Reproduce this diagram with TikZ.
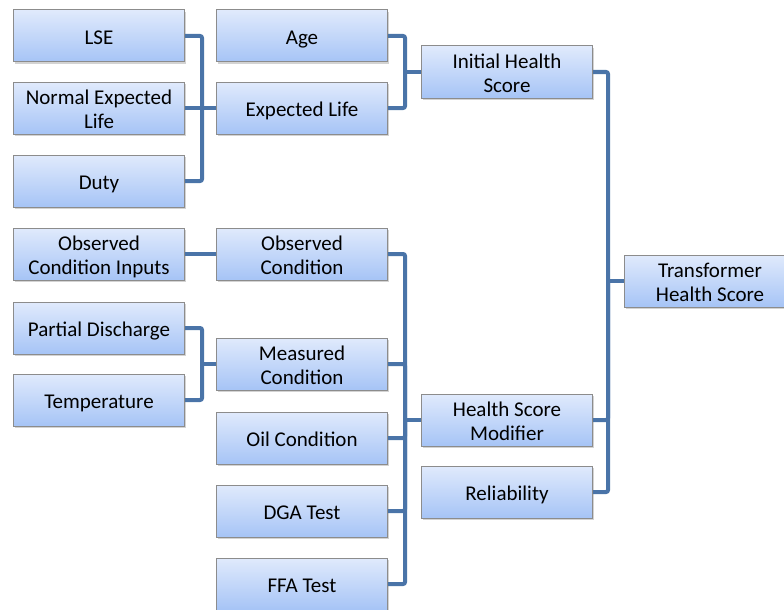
\documentclass[tikz,border=0pt]{standalone}
\usepackage{fontspec}
\setmainfont{Carlito}
\usetikzlibrary{shadows}
\definecolor{busblue}{RGB}{74,116,168}
\definecolor{boxtop}{RGB}{224,234,252}
\definecolor{boxbot}{RGB}{166,196,246}
\definecolor{boxline}{RGB}{140,140,140}
\newcommand{\blockstrut}{\rule[-3pt]{0pt}{23pt}}
\tikzset{
  block/.style={draw=boxline, line width=1pt, top color=boxtop, bottom color=boxbot,
    minimum width=171pt, minimum height=52pt, inner sep=0pt, align=center,
    font=\fontsize{21}{24}\selectfont,
    execute at begin node=\blockstrut, execute at end node=\blockstrut,
    drop shadow={shadow xshift=1.5pt, shadow yshift=-2pt, opacity=0.35}},
  bus/.style={draw=busblue, line width=4pt, rounded corners=2pt}
}
\begin{document}
\begin{tikzpicture}[x=1pt, y=-1pt]
    \useasboundingbox (0,0) rectangle (784,610);
    \path
    (99,36)node(lse)[block]{LSE}
    (99,108)node(nel)[block]{\blockstrut Normal Expected\\Life}
    (99,181)node(duty)[block]{Duty}
    (302,36)node(age)[block]{Age}
    (302,108)node(el)[block]{Expected Life}
    (507,72)node(ihs)[block]{\blockstrut Initial Health\\Score}
    (710,281)node(ths)[block]{\blockstrut Transformer\\Health Score}
    (99,254)node(oci)[block]{\blockstrut Observed\\Condition Inputs}
    (302,254)node(oc)[block]{\blockstrut Observed\\Condition}
    (99,328)node(pd)[block]{Partial Discharge}
    (99,400)node(temp)[block]{Temperature}
    (302,364)node(mc)[block]{\blockstrut Measured\\Condition}
    (302,438)node(oil)[block]{Oil Condition}
    (302,511)node(dga)[block]{DGA Test}
    (302,584)node(ffa)[block]{FFA Test}
    (507,420)node(hsm)[block]{\blockstrut Health Score\\Modifier}
    (507,492)node(rel)[block]{Reliability};
    %
    \coordinate (b1) at (202,108);
    \coordinate (b2) at (405,72);
    \coordinate (b3) at (405,420);
    \coordinate (b4) at (608,281);
    \coordinate (b5) at (202,364);
    %
    \draw [bus](lse.east) -| (b1);
    \draw [bus](duty.east) -| (b1);
    \draw [bus](nel.east) -- (el.west);
    \draw [bus](age.east) -| (b2);
    \draw [bus](el.east) -| (b2);
    \draw [bus](b2) -- (ihs.west);
    \draw [bus](oci.east) -- (oc.west);
    \draw [bus](pd.east) -| (b5);
    \draw [bus](temp.east) -| (b5);
    \draw [bus](b5) -- (mc.west);
    \draw [bus](oc.east) -| (b3);
    \draw [bus](mc.east) -| (b3);
    \draw [bus](oil.east) -| (b3);
    \draw [bus](dga.east) -| (b3);
    \draw [bus](ffa.east) -| (b3);
    \draw [bus](b3) -- (hsm.west);
    \draw [bus](ihs.east) -| (b4);
    \draw [bus](hsm.east) -| (b4);
    \draw [bus](rel.east) -| (b4);
    \draw [bus](b4) -- (ths.west);
\end{tikzpicture}
\end{document}
